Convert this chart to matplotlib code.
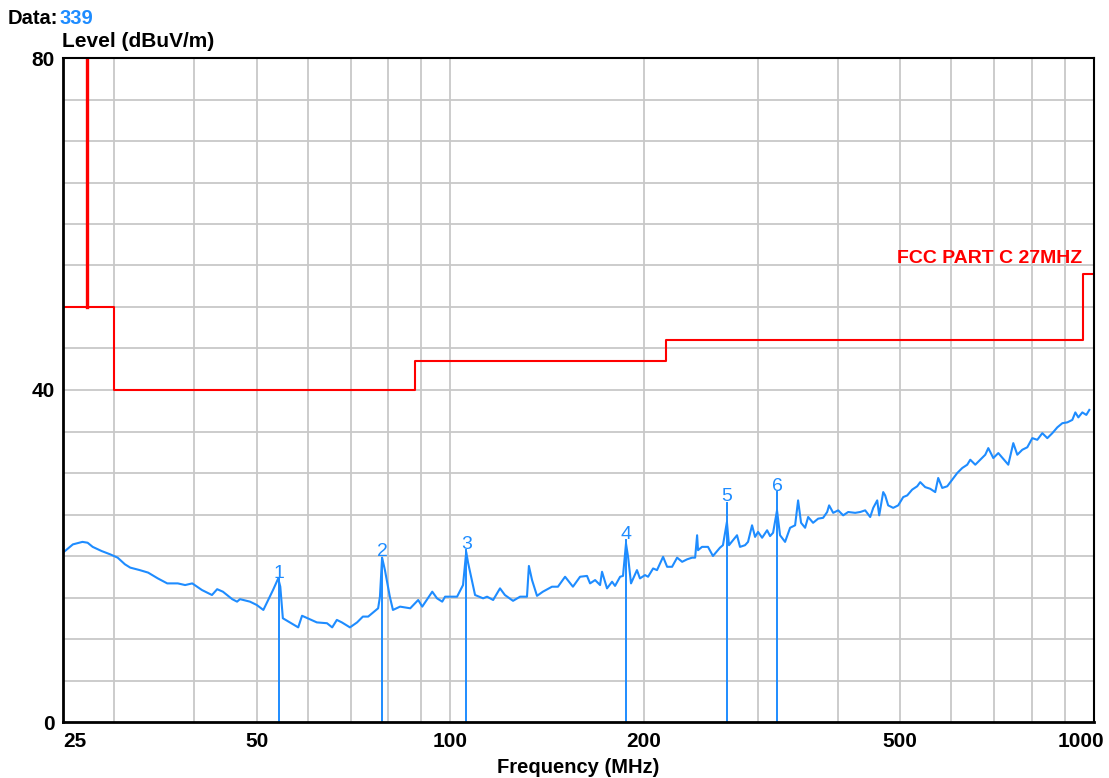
import matplotlib
matplotlib.use("Agg")
import matplotlib.pyplot as plt
import matplotlib.transforms as mtransforms

plt.rcParams['font.family'] = ['Liberation Sans', 'DejaVu Sans']

# --- данни, отчетени от графиката ---
trace_freq = [25.0, 25.9, 26.8, 27.3, 27.8, 28.7, 29.6, 30.4, 31.2, 31.8, 32.9, 33.9,
              35.1, 36.3, 37.7, 38.7, 39.7, 41.1, 42.6, 43.4, 44.3, 45.8, 46.6, 47.1,
              48.8, 50.0, 51.2, 52.1, 53.0, 54.0, 54.4, 54.9, 56.3, 58.0, 58.8, 60.0,
              62.0, 64.3, 65.5, 66.6, 67.8, 69.8, 71.6, 73.1, 74.5, 77.2, 77.7, 78.3,
              79.1, 80.5, 81.4, 83.5, 86.6, 89.1, 90.4, 93.7, 95.3, 97.1, 98.1, 102.4,
              104.6, 105.8, 106.5, 109.2, 112.4, 114.0, 116.5, 119.4, 121.5, 125.1,
              128.3, 131.5, 132.4, 133.9, 136.3, 139.2, 143.8, 146.9, 150.7, 155.0,
              159.0, 163.0, 164.8, 167.8, 170.8, 172.0, 175.1, 178.3, 180.2, 183.5,
              185.4, 187.4, 188.8, 190.8, 194.9, 197.0, 200.6, 202.8, 206.5, 209.4,
              214.0, 217.1, 221.0, 225.0, 229.1, 233.2, 237.4, 240.0, 241.7, 242.5,
              246.0, 251.3, 255.8, 262.3, 265.1, 268.9, 270.9, 274.8, 278.8, 281.8,
              286.9, 290.0, 294.2, 297.4, 300.6, 305.0, 310.5, 313.8, 317.2, 321.7,
              325.2, 331.1, 337.1, 343.2, 346.9, 350.6, 355.7, 359.6, 366.0, 372.7,
              379.4, 384.9, 387.6, 393.3, 400.4, 407.6, 415.0, 425.5, 433.2, 441.0,
              449.0, 453.9, 460.4, 463.7, 470.4, 473.7, 478.8, 487.5, 496.3, 505.3,
              512.6, 521.8, 531.2, 537.0, 546.6, 556.5, 566.6, 572.7, 581.0, 591.5,
              602.2, 613.1, 624.1, 635.4, 642.3, 653.9, 665.7, 677.7, 685.1, 697.5,
              710.1, 722.9, 735.9, 749.2, 760.0, 773.7, 787.7, 801.9, 816.4, 831.1,
              846.2, 861.5, 877.0, 892.9, 909.0, 925.4, 935.4, 945.5, 959.1, 972.9,
              983.4]
trace_level = [20.4, 21.4, 21.7, 21.6, 21.1, 20.6, 20.2, 19.8, 19.0, 18.6, 18.3, 18.0,
               17.3, 16.7, 16.7, 16.5, 16.7, 15.9, 15.3, 16.0, 15.7, 14.8, 14.5, 14.8,
               14.5, 14.1, 13.5, 14.7, 15.9, 17.3, 16.3, 12.5, 12.0, 11.4, 12.8, 12.5,
               12.0, 11.9, 11.4, 12.3, 12.0, 11.4, 12.0, 12.7, 12.7, 13.7, 15.1, 19.8,
               18.3, 15.1, 13.5, 13.9, 13.7, 14.7, 13.9, 15.7, 14.9, 14.5, 15.1, 15.1,
               16.5, 20.5, 19.2, 15.3, 14.9, 15.1, 14.7, 16.1, 15.3, 14.6,
               15.1, 15.1, 18.8, 17.1, 15.2, 15.7, 16.3, 16.3, 17.5, 16.3,
               17.5, 17.6, 16.7, 17.1, 16.5, 18.1, 16.1, 16.9, 16.4, 17.5,
               17.6, 21.5, 19.9, 16.7, 18.3, 17.3, 17.7, 17.5, 18.5, 18.3,
               19.9, 18.7, 18.7, 19.8, 19.3, 19.6, 19.8, 19.8, 22.5, 20.7,
               21.1, 21.1, 20.0, 21.0, 21.3, 24.1, 21.3, 21.9, 22.5, 21.1,
               21.3, 21.7, 23.7, 22.3, 22.9, 22.2, 23.1, 22.4, 22.8, 25.5,
               22.5, 21.7, 23.4, 23.7, 26.7, 24.0, 23.4, 24.7, 24.0, 24.5,
               24.6, 25.3, 26.1, 25.2, 25.5, 24.9, 25.3, 25.2, 25.3, 25.5,
               24.7, 25.8, 26.7, 24.9, 27.7, 27.3, 26.1, 25.8, 26.1, 27.1,
               27.3, 28.0, 28.4, 28.9, 28.3, 28.1, 27.7, 29.4, 28.2, 28.4,
               29.2, 30.0, 30.6, 31.0, 31.6, 31.0, 31.6, 32.2, 33.0, 31.8,
               32.4, 31.7, 31.0, 33.6, 32.2, 32.8, 33.1, 34.2, 34.0, 34.8,
               34.2, 34.8, 35.5, 36.0, 36.1, 36.4, 37.3, 36.7, 37.3, 37.0,
               37.6]

limit_freq = [25, 30, 30, 88, 88, 216, 216, 960, 960, 1000]
limit_level = [50, 50, 40, 40, 43.5, 43.5, 46, 46, 54, 54]
band_freq = 27.2          # 27 MHz линия
band_level = [50, 80]

marker_ids = ['1', '2', '3', '4', '5', '6']
marker_freq = [54.2, 78.3, 105.8, 187.4, 268.9, 321.7]
marker_level = [17.2, 19.8, 20.7, 21.9, 26.4, 27.7]

xticks = [25, 50, 100, 200, 500, 1000]
xgrid = [30, 40, 50, 60, 70, 80, 90, 100, 200, 300, 400, 500, 600, 700, 800, 900]
yticks = [0, 40, 80]

BLUE = '#1E8CFF'
RED = '#FF0000'

fig = plt.figure(figsize=(11.09, 7.78), dpi=100, facecolor='white')
ax = fig.add_axes([63 / 1109, 1 - 722 / 778, (1094 - 63) / 1109, (722 - 58) / 778])
ax.set_xscale('log')
ax.set_xlim(25, 1000)
ax.set_ylim(0, 80)

# решетка
for f in xgrid:
    ax.axvline(f, color='#C8C8C8', lw=1.3, zorder=0)
for lv in range(5, 80, 5):
    ax.axhline(lv, color='#C8C8C8', lw=1.3, zorder=0)

# лимит
ax.plot(limit_freq, limit_level, color=RED, lw=1.5, zorder=3)
ax.plot([band_freq, band_freq], band_level, color=RED, lw=2.4, zorder=3)
ax.text(960, 54.8, 'FCC PART C 27MHZ', color=RED, fontsize=14, fontweight='bold',
        ha='right', va='bottom')

# измерване
ax.plot(trace_freq, trace_level, color=BLUE, lw=1.5, zorder=4)
for mid, f, lv in zip(marker_ids, marker_freq, marker_level):
    ax.plot([f, f], [0, lv], color=BLUE, lw=1.4, zorder=4)
    ax.text(f, lv - 0.3, mid, color=BLUE, fontsize=14, ha='center', va='bottom', zorder=5)

# оси
ax.set_xticks(xticks)
ax.set_xticklabels([str(t) for t in xticks])
ax.xaxis.set_minor_locator(matplotlib.ticker.NullLocator())
ax.set_yticks(yticks)
ax.tick_params(axis='x', length=0, labelsize=15, pad=7)
ax.tick_params(axis='y', length=0, labelsize=15, pad=6)
for lab in ax.get_xticklabels() + ax.get_yticklabels():
    lab.set_fontweight('bold')
ax.get_xticklabels()[0].set_ha('left')
last = ax.get_xticklabels()[-1]
last.set_transform(last.get_transform() + mtransforms.ScaledTranslation(-13 / 100, 0, fig.dpi_scale_trans))

for side in ['left', 'bottom']:
    ax.spines[side].set_linewidth(2.0)
for side in ['top', 'right']:
    ax.spines[side].set_linewidth(1.5)
for s in ax.spines.values():
    s.set_color('black')
    s.set_zorder(6)

ax.set_xlabel('Frequency (MHz)', fontsize=14.5, fontweight='bold', labelpad=5)

fig.text(8 / 1109, 1 - 24 / 778, 'Data:', fontsize=14.5, fontweight='bold', ha='left', va='baseline')
fig.text(60 / 1109, 1 - 24 / 778, '339', fontsize=14.5, fontweight='bold', color=BLUE,
         ha='left', va='baseline')
fig.text(62 / 1109, 1 - 47 / 778, 'Level (dBuV/m)', fontsize=15, fontweight='bold',
         ha='left', va='baseline')

fig.savefig('out.png', dpi=100, facecolor='white')
